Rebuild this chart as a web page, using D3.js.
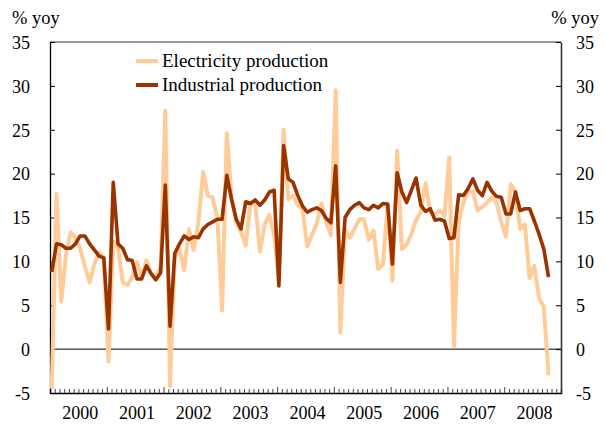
<!DOCTYPE html>
<html><head><meta charset="utf-8">
<script src="https://cdn.jsdelivr.net/npm/d3@7"></script>
<style>
body{margin:0;background:#fff;}
svg text{font-family:"Liberation Serif","Times New Roman",serif;font-size:18px;fill:#000;}
</style></head>
<body>
<svg id="c" width="606" height="427"></svg>
<script>
const years = ["2000","2001","2002","2003","2004","2005","2006","2007","2008"];
const yTicks = [-5,0,5,10,15,20,25,30,35];
const seriesNames = ["Electricity production","Industrial production"];
// monthly % yoy, Jan 2000 .. Oct 2008
const electricity = [-4.5,17.7,5.4,10.7,13.3,12.7,11.5,9.4,7.6,9.7,11.0,10.5,
 -1.4,12.3,11.6,7.6,7.3,8.2,9.9,8.2,10.1,8.6,8.2,9.3,
 27.2,-4.2,10.5,11.4,9.0,13.7,11.3,14.5,20.2,17.5,17.3,15.0,
 4.4,24.6,17.2,14.4,13.4,11.8,16.7,16.6,11.1,14.2,15.3,13.0,
 7.8,25.0,17.1,17.5,16.4,15.9,11.7,13.0,14.3,16.6,14.5,13.0,
 29.5,1.9,13.7,12.7,13.7,14.8,14.8,12.5,13.5,9.1,9.7,16.6,
 7.8,22.6,11.4,11.9,13.1,14.7,15.6,18.9,15.6,15.3,15.8,15.2,
 21.8,0.3,14.5,16.7,17.9,18.0,15.8,16.2,16.7,17.3,16.7,14.5,
 12.8,18.8,17.9,13.7,14.2,8.1,9.5,5.8,4.8,-3.0];
const industrial = [8.8,12.0,11.9,11.5,11.5,12.0,12.9,12.9,12.0,11.3,10.6,10.4,
 2.3,19.0,12.0,11.5,10.2,10.1,8.0,8.0,9.5,8.6,7.9,8.7,
 18.7,2.6,10.9,12.0,12.9,12.5,12.8,12.7,13.7,14.2,14.5,14.8,
 14.8,19.8,17.1,14.8,13.7,16.8,16.6,17.0,16.4,17.0,17.9,18.1,
 7.2,23.2,19.4,19.0,17.5,16.3,15.6,15.9,16.1,15.8,14.9,14.4,
 20.9,7.6,15.0,15.9,16.4,16.7,16.1,15.9,16.4,16.1,16.6,16.5,
 9.7,20.1,17.9,16.7,18.1,19.5,16.4,15.7,16.0,14.7,14.8,14.6,
 12.6,12.7,17.6,17.5,18.3,19.4,18.1,17.5,19.0,18.0,17.4,17.3,
 15.4,15.4,17.9,15.8,16.0,16.0,14.6,13.1,11.4,8.2];
const colors = ["#FFCC99","#993300"];

const svg = d3.select("#c");
const L=50, R=561, T=42, B=393;
const x = d3.scaleLinear().domain([0,108]).range([L,R]);
const y = d3.scaleLinear().domain([-5,35]).range([B,T]);
const off = 0.37;
const fmt = d => String(d);

// frame
svg.append("line").attr("x1",L).attr("x2",R).attr("y1",T).attr("y2",T).attr("stroke","#777").attr("stroke-width",1.3);
// zero line
svg.append("line").attr("x1",L).attr("x2",R).attr("y1",y(0)).attr("y2",y(0)).attr("stroke","#000").attr("stroke-width",1);

// bottom month ticks
const months = d3.range(0,109);
svg.append("g").attr("transform",`translate(0,${B})`)
  .call(d3.axisBottom(x).tickValues(months.filter(m=>m%12!==0)).tickSize(-4).tickFormat(""))
  .call(g=>g.select(".domain").attr("stroke","#000").attr("stroke-width",1.3))
  .call(g=>g.selectAll(".tick line").attr("stroke","#444"));
svg.append("g").attr("transform",`translate(0,${B})`)
  .call(d3.axisBottom(x).tickValues(months.filter(m=>m%12===0)).tickSize(-6).tickFormat(""))
  .call(g=>g.select(".domain").remove())
  .call(g=>g.selectAll(".tick line").attr("stroke","#444"));
// year labels
svg.append("g").selectAll("text").data(years).join("text")
  .attr("x",(d,i)=>x(i*12+6.4)).attr("y",419).attr("text-anchor","middle").text(d=>d);

// left axis
svg.append("g").attr("transform",`translate(${L},0)`)
  .call(d3.axisLeft(y).tickValues(yTicks).tickFormat(fmt).tickSize(-5).tickPadding(20).tickSizeOuter(0))
  .call(g=>g.select(".domain").attr("stroke","#000").attr("stroke-width",1.3))
  .call(g=>g.selectAll("text").attr("font-size",null).attr("font-family",null).attr("dy","0.35em"));
// right axis
svg.append("g").attr("transform",`translate(${R},0)`)
  .call(d3.axisRight(y).tickValues(yTicks).tickFormat(fmt).tickSize(-5).tickPadding(15).tickSizeOuter(0))
  .call(g=>g.select(".domain").attr("stroke","#333").attr("stroke-width",1.6))
  .call(g=>g.selectAll("text").attr("font-size",null).attr("font-family",null).attr("dy","0.35em"));

svg.append("text").attr("x",12).attr("y",24).style("font-size","18.5px").text("% yoy");
svg.append("text").attr("x",599).attr("y",24).attr("text-anchor","end").style("font-size","18.5px").text("% yoy");

// lines
const line = d3.line().x((d,i)=>x(i+off)).y(d=>y(d)).curve(d3.curveLinear);
[electricity, industrial].forEach((s,k)=>{
  svg.append("path").datum(s).attr("d",line).attr("fill","none")
    .attr("stroke",colors[k]).attr("stroke-width",k===0?4:3.6).attr("stroke-linejoin","round");
});

// legend
const lg = svg.append("g");
seriesNames.forEach((n,k)=>{
  const yy = 61 + k*24;
  lg.append("line").attr("x1",136).attr("x2",158).attr("y1",yy).attr("y2",yy)
    .attr("stroke",colors[k]).attr("stroke-width",4);
  lg.append("text").attr("x",162).attr("y",yy+6).style("font-size","19px").text(n);
});
</script>
</body></html>
